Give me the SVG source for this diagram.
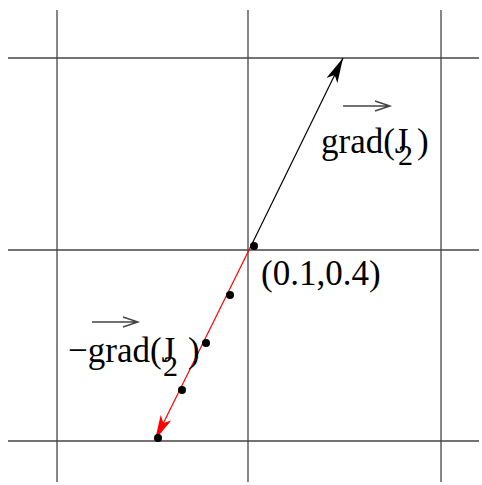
<svg xmlns="http://www.w3.org/2000/svg" width="482" height="485" viewBox="0 0 482 485">
<defs>
<style>
.grid{stroke:#444;stroke-width:1.3;fill:none}
.t{font-family:"Liberation Serif",serif;font-size:35px;fill:#000}
.s{font-family:"Liberation Serif",serif;font-size:30px;fill:#000}
.ov{stroke:#444;stroke-width:1.4;fill:none}
</style>
<marker id="ab" viewBox="0 0 25 12" refX="25" refY="6" markerWidth="25" markerHeight="12" markerUnits="userSpaceOnUse" orient="auto"><path d="M0,0 L25,6 L0,12 L6,6 Z" fill="#000"/></marker>
<marker id="ar" viewBox="0 0 25 12" refX="25" refY="6" markerWidth="25" markerHeight="12" markerUnits="userSpaceOnUse" orient="auto"><path d="M0,0 L25,6 L0,12 L6,6 Z" fill="#f00"/></marker>
</defs>
<g id="grid">
<line class="grid" x1="57" y1="10" x2="57" y2="482"/>
<line class="grid" x1="248" y1="10" x2="248" y2="482"/>
<line class="grid" x1="441" y1="10" x2="441" y2="482"/>
<line class="grid" x1="8" y1="58" x2="479" y2="58"/>
<line class="grid" x1="8" y1="250" x2="479" y2="250"/>
<line class="grid" x1="8" y1="441" x2="479" y2="441"/>
</g>
<g id="connectors">
<line x1="250" y1="248" x2="343" y2="58" stroke="#000" stroke-width="1.2" marker-end="url(#ab)"/>
<line x1="250" y1="248" x2="155" y2="440" stroke="#f00" stroke-width="1.2" marker-end="url(#ar)"/>
</g>
<g id="points" fill="#000">
<circle cx="254" cy="246" r="4"/>
<circle cx="230" cy="295" r="4"/>
<circle cx="206" cy="343" r="4"/>
<circle cx="182" cy="390" r="4"/>
<circle cx="158" cy="438" r="4"/>
</g>
<g id="label-grad">
<path class="ov" d="M343,106 H390 M375,101 L390,106 L375,111"/>
<text class="t" x="321" y="153">grad(J</text>
<text class="s" x="398" y="165">2</text>
<text class="t" x="417" y="153">)</text>
</g>
<g id="label-point">
<text class="t" x="261" y="285">(0.1,0.4)</text>
</g>
<g id="label-neggrad">
<path class="ov" d="M92,322 H138 M123,317 L138,322 L123,327"/>
<text class="t" x="68" y="362">−grad(J</text>
<text class="s" x="163" y="376">2</text>
<text class="t" x="188" y="362">)</text>
</g>
</svg>
